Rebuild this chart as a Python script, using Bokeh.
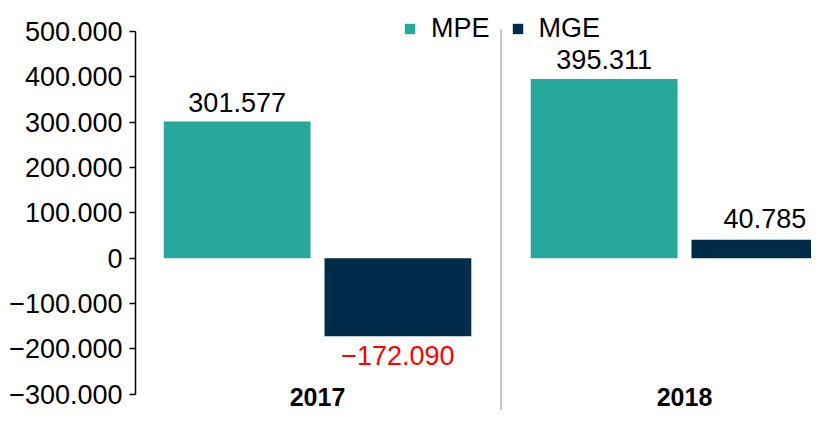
import numpy as np
from bokeh.plotting import figure
from bokeh.models import Range1d, FixedTicker, Legend, LegendItem, ColumnDataSource
from bokeh.core.properties import value
from bokeh.embed import file_html
from bokeh.resources import INLINE

categories = ["2017", "2018"]
mpe = [301577, 395311]
mge = [-172090, 40785]
y_ticks = [-300000, -200000, -100000, 0, 100000, 200000, 300000, 400000, 500000]

TEAL = "#26A89B"
NAVY = "#002C4A"
FONT = "Liberation Sans"


def fmt(v):
    s = f"{abs(v):,}".replace(",", ".")
    return ("\u2212" + s) if v < 0 else s


idx = np.arange(len(categories))
off = 0.219
bw = 0.4

p = figure(width=811, height=410, output_backend="svg", toolbar_location=None,
           x_range=Range1d(-0.496, 1.346), y_range=Range1d(-335600, 568200),
           min_border_left=135, min_border_right=0, min_border_top=0, min_border_bottom=0)
p.xaxis.visible = False
p.xgrid.visible = False
p.ygrid.visible = False
p.outline_line_color = None

ya = p.yaxis[0]
ya.ticker = FixedTicker(ticks=y_ticks)
ya.bounds = (min(y_ticks), max(y_ticks))
ya.major_label_overrides = {t: fmt(t) for t in y_ticks}
ya.major_label_text_font = FONT
ya.major_label_text_font_size = "27px"
ya.major_label_text_color = "#000000"
ya.major_tick_in = 0
ya.major_tick_out = 6
ya.minor_tick_out = 0
ya.minor_tick_in = 0
ya.major_label_standoff = 7
ya.axis_line_color = "#000000"
ya.axis_line_width = 1.5
ya.major_tick_line_color = "#000000"
ya.major_tick_line_width = 1.5

# separator between groups
mid = (idx[0] + idx[1]) / 2
p.segment(x0=[mid], x1=[mid], y0=[max(y_ticks) + 5000], y1=[p.y_range.start],
          line_color="#C8C8C8", line_width=2)

src = ColumnDataSource(dict(
    x1=idx - off, x2=idx + off, mpe=mpe, mge=mge,
    mpe_lab=[fmt(v) for v in mpe], mge_lab=[fmt(v) for v in mge],
    mge_col=["#FF0000" if v < 0 else "#000000" for v in mge],
    mge_off=[19 if v < 0 else -21 for v in mge],
    cat=categories, cx=idx, cy=[p.y_range.start] * len(categories),
))

r1 = p.vbar(x="x1", top="mpe", bottom=0, width=bw, source=src, fill_color=TEAL, line_color=None)
r2 = p.vbar(x="x2", top="mge", bottom=0, width=bw, source=src, fill_color=NAVY, line_color=None)

p.text(x="x1", y="mpe", text="mpe_lab", source=src, text_align="center", text_baseline="alphabetic",
       y_offset=-19, text_font=value(FONT), text_font_size="27px", text_color="#000000")
p.text(x="x2", y="mge", text="mge_lab", source=src, text_align="center", text_baseline="alphabetic",
       y_offset="mge_off", text_font=value(FONT), text_font_size="27px", text_color="mge_col")
p.text(x="cx", y="cy", text="cat", source=src, text_align="center", text_baseline="middle",
       y_offset=-14, text_font=value(FONT), text_font_size="25px", text_font_style="bold",
       text_color="#000000")

legend = Legend(items=[LegendItem(label="MPE", renderers=[r1]), LegendItem(label="MGE", renderers=[r2])],
                orientation="horizontal", location=(268, 366),
                label_text_font=FONT, label_text_font_size="27px", label_text_color="#000000",
                glyph_width=13, glyph_height=13, label_standoff=15, spacing=21, padding=4, margin=0,
                background_fill_alpha=0, border_line_color=None)
p.add_layout(legend, "center")

open("out.html", "w").write(file_html(p, INLINE))
